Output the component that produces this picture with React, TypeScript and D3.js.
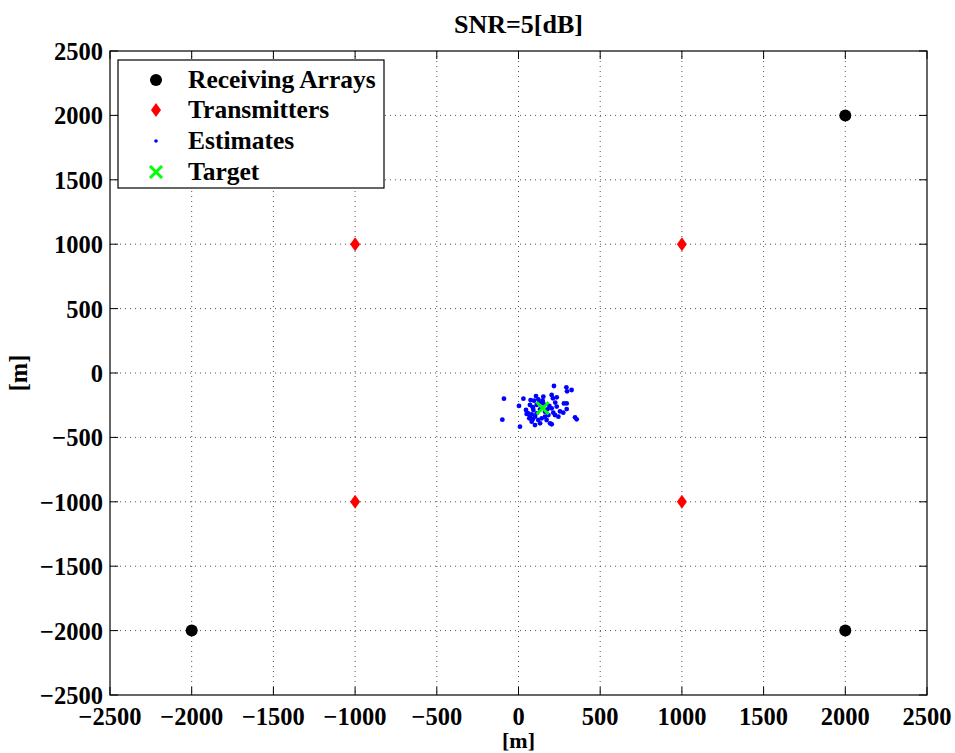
import React from "react";
import * as d3 from "d3";

const receivers: [number, number][] = [[-2000, 2000], [2000, 2000], [-2000, -2000], [2000, -2000]];
const transmitters: [number, number][] = [[-1000, 1000], [1000, 1000], [-1000, -1000], [1000, -1000]];
const target: [number, number] = [148, -274];
const estimates: [number, number][] = [
  [-89, -199], [-99, -362], [9, -417], [3, -256], [30, -199], [217, -101], [293, -111], [297, -142],
  [325, -132], [203, -171], [211, -197], [107, -179], [74, -210], [95, -215], [121, -204], [148, -215],
  [278, -236], [295, -236], [225, -230], [234, -261], [295, -280], [254, -298], [274, -308], [346, -344],
  [356, -360], [203, -398], [132, -391], [81, -378], [70, -339], [60, -313], [91, -287], [111, -313],
  [162, -339], [183, -326], [213, -308], [172, -365], [152, -236], [70, -248], [87, -266], [101, -339],
  [121, -365], [50, -318], [66, -352], [189, -256], [203, -274], [244, -339], [111, -248], [132, -282],
  [162, -300], [193, -391], [101, -404], [142, -352], [223, -326], [46, -287], [234, -189], [81, -321],
  [152, -184], [177, -282], [87, -360], [128, -228],
];
const xTicks = [-2500, -2000, -1500, -1000, -500, 0, 500, 1000, 1500, 2000, 2500];
const yTicks = [-2500, -2000, -1500, -1000, -500, 0, 500, 1000, 1500, 2000, 2500];
const legendLabels = ["Receiving Arrays", "Transmitters", "Estimates", "Target"];
const titleText = "SNR=5[dB]";
const xLabel = "[m]";
const yLabel = "[m]";

const W = 955, H = 753;
const L = 110, R = 927, T = 51, B = 695;
const font = "'Liberation Serif', 'Times New Roman', serif";

export default function App() {
  const x = d3.scaleLinear().domain([-2500, 2500]).range([L, R]);
  const y = d3.scaleLinear().domain([-2500, 2500]).range([B, T]);
  const fmt = (v: number) => (v < 0 ? "\u2212" + Math.abs(v) : String(v));
  const diamond = (cx: number, cy: number) => `M${cx},${cy - 7}L${cx + 5},${cy}L${cx},${cy + 7}L${cx - 5},${cy}Z`;
  const cross = (cx: number, cy: number, s: number) => `M${cx - s},${cy - s}L${cx + s},${cy + s}M${cx - s},${cy + s}L${cx + s},${cy - s}`;
  const tl = 8;
  const legX = 118, legY = 60, legW = 266, legH = 128;
  const rowY = [80, 110, 141, 172];
  const fs = 24.5;
  return (
    <svg width={W} height={H} style={{ position: "absolute", left: 0, top: 0, background: "#fff" }} fontFamily={font} fontWeight="bold">
      <rect x={0} y={0} width={W} height={H} fill="#fff" />
      {xTicks.slice(1, -1).map((t) => (
        <line key={"gx" + t} x1={x(t)} x2={x(t)} y1={T} y2={B} stroke="#555" strokeWidth={1} strokeDasharray="1 4" />
      ))}
      {yTicks.slice(1, -1).map((t) => (
        <line key={"gy" + t} x1={L} x2={R} y1={y(t)} y2={y(t)} stroke="#555" strokeWidth={1} strokeDasharray="1 4" />
      ))}
      {xTicks.map((t) => (
        <g key={"tx" + t}>
          <line x1={x(t)} x2={x(t)} y1={B} y2={B - tl} stroke="#000" />
          <line x1={x(t)} x2={x(t)} y1={T} y2={T + tl} stroke="#000" />
          <text x={x(t)} y={725} textAnchor="middle" fontSize={fs}>{fmt(t)}</text>
        </g>
      ))}
      {yTicks.map((t) => (
        <g key={"ty" + t}>
          <line x1={L} x2={L + tl} y1={y(t)} y2={y(t)} stroke="#000" />
          <line x1={R} x2={R - tl} y1={y(t)} y2={y(t)} stroke="#000" />
          <text x={103} y={y(t) + 9} textAnchor="end" fontSize={fs}>{fmt(t)}</text>
        </g>
      ))}
      <rect x={L} y={T} width={R - L} height={B - T} fill="none" stroke="#000" strokeWidth={1.2} />
      {estimates.map(([a, b], i) => (
        <circle key={"e" + i} cx={x(a)} cy={y(b)} r={2.4} fill="#0000ff" />
      ))}
      <path d={cross(x(target[0]), y(target[1]), 6)} stroke="#00ff00" strokeWidth={3} fill="none" />
      {transmitters.map(([a, b], i) => (
        <path key={"t" + i} d={diamond(x(a), y(b))} fill="#ff0000" />
      ))}
      {receivers.map(([a, b], i) => (
        <circle key={"r" + i} cx={x(a)} cy={y(b)} r={6} fill="#000" />
      ))}
      <rect x={legX} y={legY} width={legW} height={legH} fill="#fff" stroke="#000" strokeWidth={1.2} />
      <circle cx={156} cy={rowY[0]} r={6} fill="#000" />
      <path d={diamond(156, rowY[1])} fill="#ff0000" />
      <circle cx={156} cy={rowY[2]} r={1.8} fill="#0000ff" />
      <path d={cross(156, rowY[3], 6)} stroke="#00ff00" strokeWidth={3} fill="none" />
      {legendLabels.map((s, i) => (
        <text key={s} x={188} y={rowY[i] + 8} fontSize={25.5}>{s}</text>
      ))}
      <text x={(L + R) / 2} y={33} textAnchor="middle" fontSize={26}>{titleText}</text>
      <text x={(L + R) / 2} y={748} textAnchor="middle" fontSize={22}>{xLabel}</text>
      <text transform={`translate(27,${(T + B) / 2}) rotate(-90)`} textAnchor="middle" fontSize={fs}>{yLabel}</text>
    </svg>
  );
}
